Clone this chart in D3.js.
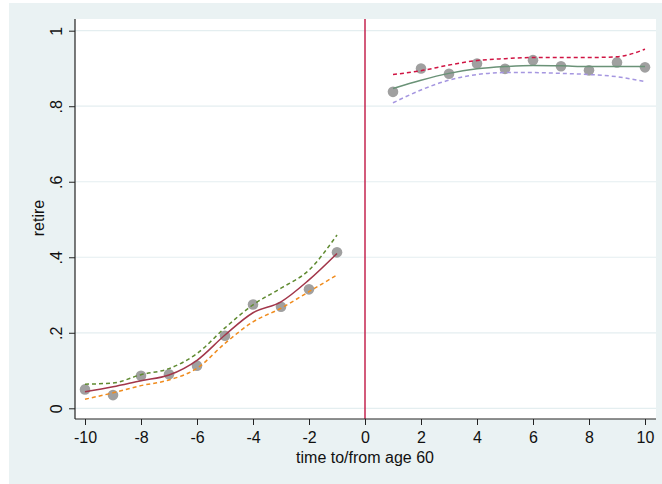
<!DOCTYPE html>
<html>
<head>
<meta charset="utf-8">
<script src="https://cdn.jsdelivr.net/npm/d3@7"></script>
<style>
  html, body { margin: 0; padding: 0; background: #ffffff; }
  svg { display: block; font-family: "Liberation Sans", Arial, Helvetica, sans-serif; }
</style>
</head>
<body>
<svg id="chart" width="662" height="484"></svg>
<script>
// Years relative to age 60
const preYears  = [-10, -9, -8, -7, -6, -5, -4, -3, -2, -1];
const postYears = [1, 2, 3, 4, 5, 6, 7, 8, 9, 10];

// Share retired (binned means)
const preMeans  = [0.050, 0.035, 0.086, 0.090, 0.113, 0.192, 0.275, 0.269, 0.315, 0.413];
const postMeans = [0.838, 0.900, 0.886, 0.913, 0.899, 0.922, 0.906, 0.895, 0.916, 0.903];

// Local polynomial fit and confidence band, before 60
const preFit    = [0.044, 0.057, 0.073, 0.088, 0.127, 0.194, 0.253, 0.282, 0.340, 0.410];
const preUpper  = [0.064, 0.067, 0.089, 0.105, 0.145, 0.213, 0.274, 0.318, 0.366, 0.459];
const preLower  = [0.024, 0.041, 0.060, 0.075, 0.106, 0.172, 0.229, 0.265, 0.309, 0.353];

// Local polynomial fit and confidence band, after 60
const postFit   = [0.847, 0.869, 0.887, 0.899, 0.905, 0.908, 0.907, 0.905, 0.905, 0.905];
const postUpper = [0.884, 0.894, 0.909, 0.921, 0.926, 0.929, 0.929, 0.929, 0.931, 0.951];
const postLower = [0.809, 0.843, 0.869, 0.884, 0.889, 0.889, 0.887, 0.884, 0.878, 0.865];

const xTicks = [-10, -8, -6, -4, -2, 0, 2, 4, 6, 8, 10];
const yTicks = [0, 0.2, 0.4, 0.6, 0.8, 1];
const yTickLabels = ["0", ".2", ".4", ".6", ".8", "1"];

const svg = d3.select("#chart");
const FONT = "Liberation Sans, Arial, sans-serif";
const TICK_FS = 16;
const TITLE_FS = 16;

// outer graph region
svg.append("rect").attr("x", 9).attr("y", 3).attr("width", 653).attr("height", 481)
  .attr("fill", "#eaf2f3");

const plot = { left: 75, right: 656, top: 19, bottom: 419 };
svg.append("rect").attr("x", plot.left).attr("y", plot.top)
  .attr("width", plot.right - plot.left).attr("height", plot.bottom - plot.top)
  .attr("fill", "#ffffff");

const x = d3.scaleLinear().domain([-10, 10]).range([85, 645]);
const y = d3.scaleLinear().domain([0, 1]).range([408.3, 30.7]);

// horizontal grid
svg.append("g").selectAll("line").data(yTicks).join("line")
  .attr("x1", plot.left).attr("x2", plot.right)
  .attr("y1", d => y(d)).attr("y2", d => y(d))
  .attr("stroke", "#e4eef0").attr("stroke-width", 1.2);

// cutoff line at age 60
svg.append("line")
  .attr("x1", x(0)).attr("x2", x(0))
  .attr("y1", plot.top).attr("y2", plot.bottom)
  .attr("stroke", "#c4244f").attr("stroke-width", 1.5);

const line = (xs) => d3.line()
  .x((d, i) => x(xs[i]))
  .y(d => y(d))
  .curve(d3.curveMonotoneX);

function drawLine(xs, vals, color, dashed, width) {
  svg.append("path").datum(vals)
    .attr("d", line(xs))
    .attr("fill", "none")
    .attr("stroke", color)
    .attr("stroke-width", width)
    .attr("stroke-dasharray", dashed ? "4,3" : null);
}

// points
svg.append("g").selectAll("circle").data(preYears.map((t, i) => [t, preMeans[i]])).join("circle")
  .attr("cx", d => x(d[0])).attr("cy", d => y(d[1])).attr("r", 5.3)
  .attr("fill", "#a0a0a0");
svg.append("g").selectAll("circle").data(postYears.map((t, i) => [t, postMeans[i]])).join("circle")
  .attr("cx", d => x(d[0])).attr("cy", d => y(d[1])).attr("r", 5.3)
  .attr("fill", "#a0a0a0");

drawLine(preYears, preFit, "#a2364a", false, 1.5);
drawLine(preYears, preUpper, "#5f8a30", true, 1.5);
drawLine(preYears, preLower, "#f08c1e", true, 1.5);

drawLine(postYears, postFit, "#6a9277", false, 1.5);
drawLine(postYears, postUpper, "#d01443", true, 1.5);
drawLine(postYears, postLower, "#a596e0", true, 1.5);

// x axis
const xAxis = svg.append("g").attr("transform", `translate(0,${plot.bottom})`)
  .call(d3.axisBottom(x).tickValues(xTicks).tickFormat(d3.format("d")).tickSize(6).tickSizeOuter(0));
xAxis.attr("font-size", null).attr("font-family", null);
xAxis.select(".domain").attr("d", `M${plot.left},0H${plot.right}`).attr("stroke", "#222").attr("stroke-width", 1.2);
xAxis.selectAll(".tick line").attr("stroke", "#222");
xAxis.selectAll(".tick text")
  .style("font-size", TICK_FS + "px").style("font-family", FONT).attr("fill", "#111")
  .text(d => d < 0 ? "-" + Math.abs(d) : d)
  .attr("y", 24).attr("dy", null);

// y axis
const yAxis = svg.append("g").attr("transform", `translate(${plot.left},0)`)
  .call(d3.axisLeft(y).tickValues(yTicks).tickSize(6).tickSizeOuter(0));
yAxis.attr("font-size", null).attr("font-family", null);
yAxis.select(".domain").attr("d", `M0,${plot.top}V${plot.bottom}`).attr("stroke", "#222").attr("stroke-width", 1.2);
yAxis.selectAll(".tick line").attr("stroke", "#222");
yAxis.selectAll(".tick text")
  .style("font-size", TICK_FS + "px").style("font-family", FONT).attr("fill", "#111")
  .text((d, i) => yTickLabels[i])
  .attr("x", null).attr("dy", null)
  .attr("text-anchor", "middle")
  .attr("transform", "translate(-13,0) rotate(-90)");

// axis titles
svg.append("text")
  .attr("x", x(0)).attr("y", 463)
  .attr("text-anchor", "middle").style("font-size", TITLE_FS + "px").style("font-family", FONT).attr("fill", "#111")
  .text("time to/from age 60");
svg.append("text")
  .attr("transform", "translate(44,218) rotate(-90)")
  .attr("text-anchor", "middle").style("font-size", TITLE_FS + "px").style("font-family", FONT).attr("fill", "#111")
  .text("retire");
</script>
</body>
</html>
